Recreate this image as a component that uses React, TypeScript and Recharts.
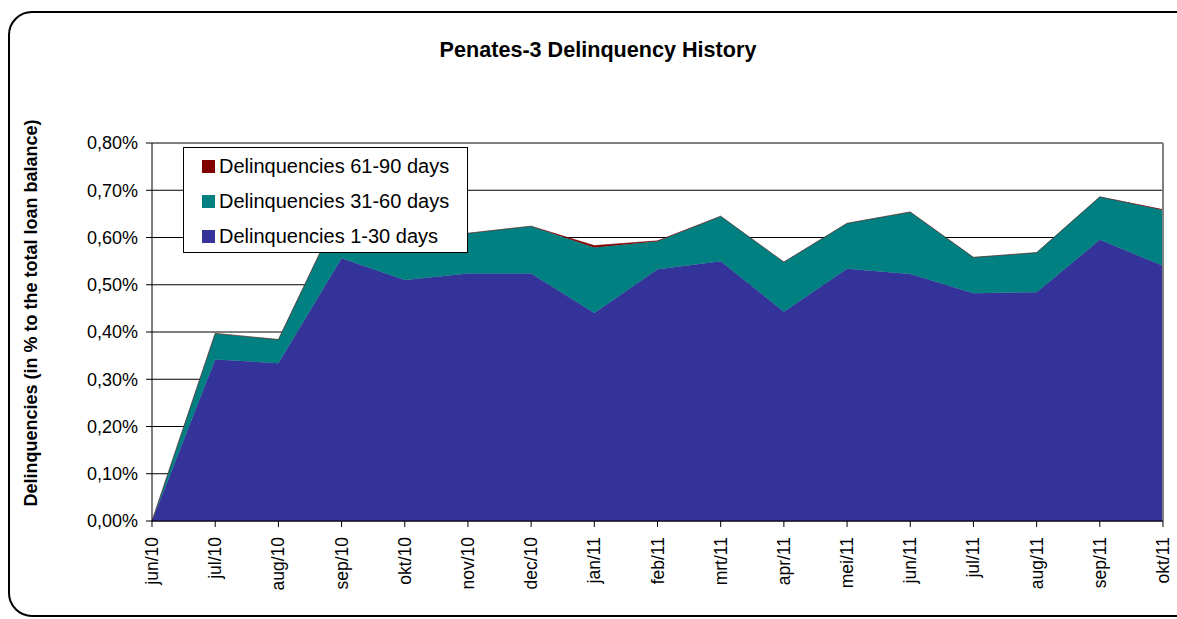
import React from "react";
import {
  AreaChart,
  Area,
  XAxis,
  YAxis,
  CartesianGrid,
  ReferenceLine,
} from "recharts";

const months = [
  "jun/10", "jul/10", "aug/10", "sep/10", "okt/10", "nov/10", "dec/10",
  "jan/11", "feb/11", "mrt/11", "apr/11", "mei/11", "jun/11", "jul/11",
  "aug/11", "sep/11", "okt/11",
];
const delinq1to30 = [
  0, 0.342, 0.334, 0.556, 0.51, 0.524, 0.524, 0.44, 0.533, 0.55, 0.443,
  0.534, 0.523, 0.482, 0.484, 0.595, 0.54,
];
const delinq31to60 = [
  0, 0.055, 0.05, 0.107, 0.105, 0.085, 0.1, 0.139, 0.059, 0.095, 0.105,
  0.096, 0.131, 0.076, 0.084, 0.091, 0.118,
];
const delinq61to90 = [
  0, 0, 0, 0, 0, 0, 0, 0.004, 0.001, 0, 0, 0, 0, 0, 0, 0, 0.001,
];
const yTicks = [0, 0.1, 0.2, 0.3, 0.4, 0.5, 0.6, 0.7, 0.8];

const seriesNames = [
  "Delinquencies 61-90 days",
  "Delinquencies 31-60 days",
  "Delinquencies 1-30 days",
];
const BLUE = "#333399";
const TEAL = "#008080";
const RED = "#800000";

const data = months.map((m, i) => ({
  month: m,
  d1: delinq1to30[i],
  d31: delinq31to60[i],
  d61: delinq61to90[i],
}));

const FONT = "'Liberation Sans', Arial, sans-serif";

const XTick = (props: any) => {
  const { x, y, payload } = props;
  return (
    <g transform={`translate(${x},${y + 8}) rotate(-90)`}>
      <text
        x={0}
        y={0}
        textAnchor="end"
        dominantBaseline="central"
        fill="#000"
        fontSize={17.5}
        fontFamily={FONT}
      >
        {payload.value}
      </text>
    </g>
  );
};

const fmt = (v: number) => v.toFixed(2).replace(".", ",") + "%";

export default function App() {
  const legendItems = [
    { name: seriesNames[0], color: RED },
    { name: seriesNames[1], color: TEAL },
    { name: seriesNames[2], color: BLUE },
  ];
  return (
    <div
      style={{
        position: "fixed",
        left: 0,
        top: 0,
        width: 1177,
        height: 619,
        overflow: "hidden",
        background: "#fff",
        fontFamily: FONT,
      }}
    >
      <div
        style={{
          position: "absolute",
          left: 8,
          top: 11,
          width: 1200,
          height: 602,
          border: "2px solid #000",
          borderRadius: 24,
          boxSizing: "content-box",
        }}
      />
      <div
        style={{
          position: "absolute",
          left: 398,
          width: 400,
          top: 37,
          textAlign: "center",
          fontWeight: "bold",
          fontSize: 21.6,
          lineHeight: "26px",
          color: "#000",
        }}
      >
        Penates-3 Delinquency History
      </div>
      <div
        style={{
          position: "absolute",
          left: 31 - 250,
          top: 313 - 12,
          width: 500,
          height: 24,
          lineHeight: "24px",
          textAlign: "center",
          fontWeight: "bold",
          fontSize: 18,
          color: "#000",
          transform: "rotate(-90deg)",
          transformOrigin: "250px 12px",
        }}
      >
        Delinquencies (in % to the total loan balance)
      </div>
      <div style={{ position: "absolute", left: 0, top: 0 }}>
        <AreaChart
          width={1177}
          height={619}
          data={data}
          margin={{ top: 143, right: 14, bottom: 0, left: 92 }}
        >
          <CartesianGrid
            vertical={false}
            stroke="#000"
            strokeWidth={1}
            fill="#fff"
          />
          <XAxis
            dataKey="month"
            interval={0}
            height={98}
            tickSize={6}
            tickLine={{ stroke: "#000" }}
            axisLine={{ stroke: "#000" }}
            tick={<XTick />}
          />
          <YAxis
            width={60}
            domain={[0, 0.8]}
            ticks={yTicks}
            tickFormatter={fmt}
            tickSize={6}
            tickMargin={8}
            tickLine={{ stroke: "#000" }}
            axisLine={{ stroke: "#000" }}
            tick={{ fill: "#000", fontSize: 18, fontFamily: FONT }}
            allowDataOverflow
          />
          <Area
            type="linear"
            dataKey="d1"
            stackId="1"
            fill={BLUE}
            fillOpacity={1}
            stroke={BLUE}
            strokeWidth={0.5}
            isAnimationActive={false}
            name={seriesNames[2]}
          />
          <Area
            type="linear"
            dataKey="d31"
            stackId="1"
            fill={TEAL}
            fillOpacity={1}
            stroke={TEAL}
            strokeWidth={0.5}
            isAnimationActive={false}
            name={seriesNames[1]}
          />
          <Area
            type="linear"
            dataKey="d61"
            stackId="1"
            fill={RED}
            fillOpacity={1}
            stroke={RED}
            strokeWidth={0.5}
            isAnimationActive={false}
            name={seriesNames[0]}
          />
          <ReferenceLine y={0.8} stroke="#808080" strokeWidth={2} />
          <ReferenceLine x="okt/11" stroke="#808080" strokeWidth={2} />
        </AreaChart>
      </div>
      <div
        style={{
          position: "absolute",
          left: 183,
          top: 147,
          width: 283,
          height: 104,
          border: "1px solid #000",
          background: "#fff",
        }}
      >
        {legendItems.map((it, i) => (
          <div
            key={it.name}
            style={{
              position: "absolute",
              left: 18,
              top: 7 + i * 35,
              height: 22,
              display: "flex",
              alignItems: "center",
              whiteSpace: "nowrap",
            }}
          >
            <div
              style={{
                width: 13,
                height: 13,
                background: it.color,
                marginRight: 4,
              }}
            />
            <span style={{ fontSize: 20, color: "#000", lineHeight: "22px" }}>
              {it.name}
            </span>
          </div>
        ))}
      </div>
    </div>
  );
}
